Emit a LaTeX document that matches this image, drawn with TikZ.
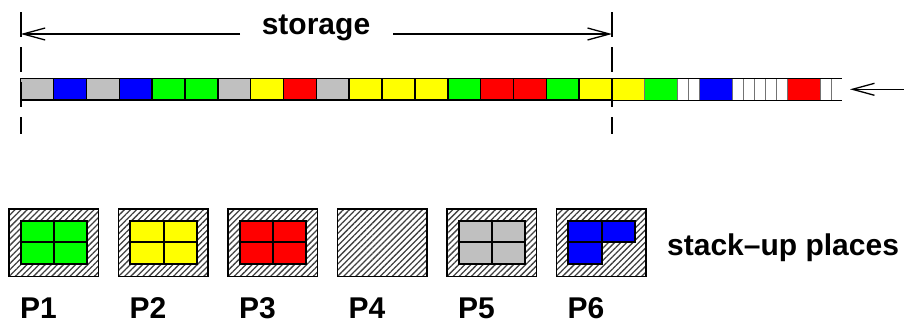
\documentclass[tikz,border=0pt]{standalone}
\usepackage{fontspec}
\setmainfont{Liberation Sans}
\usetikzlibrary{arrows.meta,patterns.meta}
\definecolor{cgrey}{RGB}{192,192,192}
\definecolor{cblue}{RGB}{0,0,255}
\definecolor{cgreen}{RGB}{0,255,0}
\definecolor{cyellow}{RGB}{255,255,0}
\definecolor{cred}{RGB}{255,0,0}
\tikzset{
  lab/.style={font=\bfseries\fontsize{30}{36}\selectfont, inner sep=0pt},
  cellb/.style={draw=black, line width=1.5pt},
  thinsep/.style={draw=black!55, line width=0.9pt},
  arr/.style={line width=1.3pt, -{Straight Barb[length=22pt,width=12pt]}},
  dashline/.style={line width=2pt, dash pattern=on 25pt off 10pt},
  place/.style={draw=black, line width=1.5pt, minimum width=89.3pt, minimum height=67.7pt,
    inner sep=0pt, outer sep=0pt,
    pattern={Lines[angle=45,distance=4.3pt,line width=1.3pt]}, pattern color=black!75},
  incell/.style={draw=black, line width=2pt},
}
\begin{document}
\begin{tikzpicture}[x=1pt,y=-1pt]
\useasboundingbox (0,0) rectangle (904,322);
\def\cw{32.85}
% right (incoming) part of the bar
\foreach \xa/\wd/\c in {612/32.85/cyellow, 644.85/32.85/cgreen, 677.7/10.95/white, 688.65/10.95/white,
  699.6/32.85/cblue, 732.45/10.95/white, 743.4/10.95/white, 754.35/10.95/white, 765.3/10.95/white,
  776.25/10.95/white, 787.2/32.85/cred, 820.05/10.95/white, 831.0/10.95/white}
  \fill[\c] (\xa,78.3) rectangle ++(\wd,21.7);
\foreach \xa in {644.85,677.7,688.65,699.6,732.45,743.4,754.35,765.3,776.25,787.2,820.05,831.0}
  \draw[thinsep] (\xa,78.3) -- (\xa,100);
\draw[line width=1pt] (612,78.3) -- (841.95,78.3) (612,100) -- (841.95,100);
% storage part of the bar
\foreach \c [count=\i from 0] in {cgrey,cblue,cgrey,cblue,cgreen,cgreen,cgrey,cyellow,cred,cgrey,cyellow,cyellow,cyellow,cgreen,cred,cred,cgreen,cyellow}
  \draw[cellb, fill=\c] (20.7+\i*\cw,78.3) rectangle ++(\cw,21.7);
% dashed limits
\coordinate (dlt) at (20.7,12); \coordinate (dlb) at (20.7,134);
\coordinate (drt) at (612,12);  \coordinate (drb) at (612,134);
\draw[dashline] (dlt) -- (dlb);
\draw[dashline] (drt) -- (drb);
% storage label and arrows
\node[lab, anchor=base] (st) at (316,34.3) {storage};
\coordinate (sa) at (240,34); \coordinate (sl) at (20.7,34);
\coordinate (sb) at (393,34); \coordinate (sr) at (612,34);
\draw[arr] (sa) -- (sl);
\draw[arr] (sb) -- (sr);
% incoming arrow
\coordinate (ia) at (904,89.3); \coordinate (ib) at (850,89.3);
\draw[arr] (ia) -- (ib);
% stack-up places
\foreach \i in {1,...,6} {
  \pgfmathsetmacro\xl{9+109.5*(\i-1)}
  \node[place] (P\i) at (\xl+44.65,242.85) {};
  \node[lab, anchor=base] (L\i) at (\xl+29.5,318.3) {P\i};
}
\foreach \i/\c in {1/cgreen,2/cyellow,3/cred,5/cgrey}
  \foreach \a in {0,1} \foreach \b in {0,1}
    \draw[incell, fill=\c] ([shift={(11.7+\a*33.35,11.7+\b*21.65)}]P\i.north west) rectangle ++(33.35,21.65);
\foreach \a/\b in {0/0,1/0,0/1}
  \draw[incell, fill=cblue] ([shift={(11.7+\a*33.35,11.7+\b*21.65)}]P6.north west) rectangle ++(33.35,21.65);
\node[lab, anchor=base west] (sp) at (667,255) {stack–up places};
\end{tikzpicture}
\end{document}
